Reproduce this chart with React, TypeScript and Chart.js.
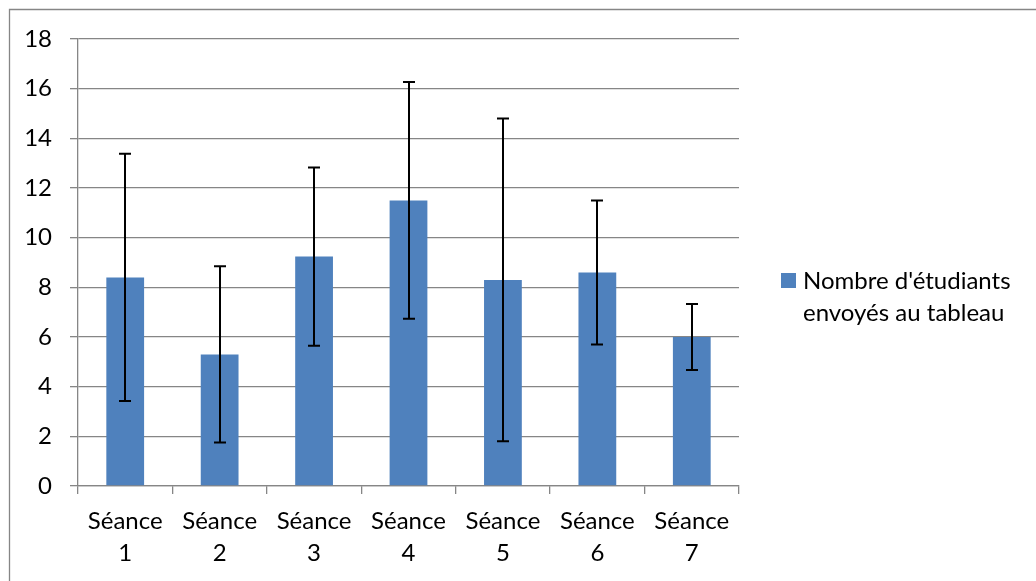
import React, { useEffect, useRef } from "react";
import { Chart, registerables } from "chart.js";

Chart.register(...registerables);

const categories: string[][] = [
  ["Séance", "1"],
  ["Séance", "2"],
  ["Séance", "3"],
  ["Séance", "4"],
  ["Séance", "5"],
  ["Séance", "6"],
  ["Séance", "7"],
];
const means: number[] = [8.4, 5.3, 9.24, 11.5, 8.3, 8.6, 6.0];
const errors: number[] = [4.98, 3.55, 3.59, 4.77, 6.5, 2.9, 1.33];
const yTicks: number[] = [0, 2, 4, 6, 8, 10, 12, 14, 16, 18];
const seriesLabel: string[] = ["Nombre d'étudiants", "envoyés au tableau"];

const FONT = "Lato";
const FONT_SIZE = 24;
const BAR_COLOR = "#4F81BD";
const GRID_COLOR = "#868686";

const borderPlugin = {
  id: "outerBorder",
  beforeDraw(chart: any) {
    const ctx = chart.ctx;
    ctx.save();
    ctx.strokeStyle = "#868686";
    ctx.lineWidth = 1.3;
    ctx.beginPath();
    ctx.moveTo(9.5, chart.height + 5);
    ctx.lineTo(9.5, 9.5);
    ctx.lineTo(chart.width + 5, 9.5);
    ctx.stroke();
    ctx.restore();
  },
};

const errorBarPlugin = {
  id: "errorBars",
  afterDatasetsDraw(chart: any) {
    const ctx = chart.ctx;
    const meta = chart.getDatasetMeta(0);
    const yScale = chart.scales.y;
    ctx.save();
    ctx.strokeStyle = "#000000";
    ctx.lineWidth = 2;
    meta.data.forEach((el: any, i: number) => {
      const x = Math.round(el.x);
      const yTop = yScale.getPixelForValue(means[i] + errors[i]);
      const yBot = yScale.getPixelForValue(means[i] - errors[i]);
      const cap = 6;
      ctx.beginPath();
      ctx.moveTo(x, yTop);
      ctx.lineTo(x, yBot);
      ctx.moveTo(x - cap, yTop);
      ctx.lineTo(x + cap, yTop);
      ctx.moveTo(x - cap, yBot);
      ctx.lineTo(x + cap, yBot);
      ctx.stroke();
    });
    ctx.restore();
  },
};

const legendPlugin = {
  id: "customLegend",
  afterDraw(chart: any) {
    const ctx = chart.ctx;
    const area = chart.chartArea;
    const boxX = area.right + 42;
    const boxSize = 15;
    const firstBaseline = 289;
    const lineGap = 32;
    ctx.save();
    ctx.fillStyle = BAR_COLOR;
    ctx.fillRect(boxX, firstBaseline - 16, boxSize, boxSize);
    ctx.fillStyle = "#000000";
    ctx.font = `${FONT_SIZE}px ${FONT}`;
    ctx.textAlign = "left";
    ctx.textBaseline = "alphabetic";
    seriesLabel.forEach((line, i) => {
      ctx.fillText(line, boxX + 22, firstBaseline + i * lineGap);
    });
    ctx.restore();
  },
};

export default function App() {
  const canvasRef = useRef<HTMLCanvasElement | null>(null);

  useEffect(() => {
    if (!canvasRef.current) return;
    const chart = new Chart(canvasRef.current, {
      type: "bar",
      data: {
        labels: categories,
        datasets: [
          {
            label: seriesLabel.join(" "),
            data: means,
            backgroundColor: BAR_COLOR,
            borderWidth: 0,
            barPercentage: 0.4,
            categoryPercentage: 1.0,
          },
        ],
      },
      options: {
        animation: false,
        responsive: false,
        layout: { padding: { left: 0, top: 39, right: 297, bottom: 0 } },
        plugins: {
          legend: { display: false },
          tooltip: { enabled: false },
        },
        scales: {
          x: {
            offset: true,
            grid: {
              offset: true,
              drawOnChartArea: false,
              drawTicks: true,
              tickLength: 8,
              color: GRID_COLOR,
              lineWidth: 1.3,
            },
            border: { color: GRID_COLOR, width: 1.3 },
            ticks: {
              color: "#000000",
              font: { family: FONT, size: FONT_SIZE, lineHeight: 1.35 },
              padding: 11,
              maxRotation: 0,
              autoSkip: false,
            },
            afterFit(scale: any) {
              scale.height = 95;
            },
          },
          y: {
            min: 0,
            max: 18,
            afterBuildTicks(scale: any) {
              scale.ticks = yTicks.map((v) => ({ value: v }));
            },
            grid: {
              color: GRID_COLOR,
              lineWidth: 1.3,
              tickLength: 8,
            },
            border: { color: GRID_COLOR, width: 1.3 },
            ticks: {
              color: "#000000",
              font: { family: FONT, size: FONT_SIZE },
              padding: 18,
            },
            afterFit(scale: any) {
              scale.width = 78;
            },
          },
        },
      },
      plugins: [borderPlugin, errorBarPlugin, legendPlugin],
    });
    return () => chart.destroy();
  }, []);

  return (
    <div style={{ position: "fixed", left: 0, top: 0, width: 1036, height: 581, background: "#ffffff" }}>
      <canvas ref={canvasRef} width={1036} height={581} style={{ display: "block" }} />
    </div>
  );
}
